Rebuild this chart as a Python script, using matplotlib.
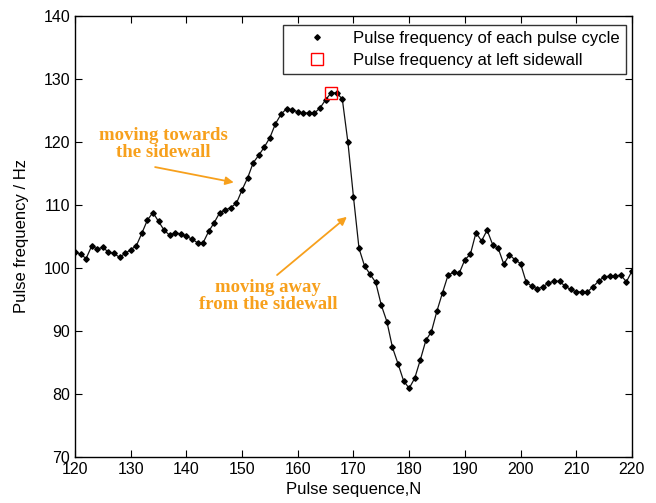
import matplotlib.pyplot as plt
import numpy as np

plt.rcParams['font.family'] = ['Liberation Sans', 'DejaVu Sans']

pulse_n = np.arange(120, 221)
freq_hz = [102.6, 102.2, 101.5, 103.5, 103.0, 103.3, 102.5, 102.3, 101.7, 102.3,
           102.9, 103.5, 105.5, 107.6, 108.8, 107.4, 106.0, 105.2, 105.6, 105.4,
           105.0, 104.6, 104.0, 104.0, 105.8, 107.2, 108.8, 109.2, 109.6, 110.3,
           112.4, 114.3, 116.7, 117.9, 119.2, 120.7, 122.9, 124.4, 125.3, 125.1,
           124.8, 124.6, 124.6, 124.6, 125.4, 126.7, 127.8, 127.8, 126.8, 120.0,
           111.3, 103.1, 100.3, 99.0, 97.7, 94.1, 91.5, 87.4, 84.8, 82.1,
           80.9, 82.5, 85.4, 88.5, 89.9, 93.2, 96.1, 98.9, 99.3, 99.2,
           101.3, 102.2, 105.6, 104.3, 106.0, 103.7, 103.1, 100.6, 102.1, 101.3,
           100.7, 97.8, 97.1, 96.7, 97.0, 97.6, 97.9, 97.9, 97.1, 96.6,
           96.2, 96.2, 96.2, 97.0, 97.9, 98.6, 98.7, 98.7, 98.9, 97.8,
           99.5]

# the cycle where the jet hits the left sidewall
wall_n = [166]
wall_hz = [127.8]

orange = '#f7a01c'

fig = plt.figure(figsize=(6.56, 5.03), dpi=100)
ax = fig.add_axes([0.1143, 0.0915, 0.849, 0.8767])

ax.plot(pulse_n, freq_hz, color='#111111', linewidth=0.9)
ax.plot(pulse_n, freq_hz, linestyle='None', marker='D', markersize=2.8,
        color='black', label='Pulse frequency of each pulse cycle')
ax.plot(wall_n, wall_hz, linestyle='None', marker='s', markersize=8,
        markerfacecolor='none', markeredgecolor='red', markeredgewidth=1.0,
        label='Pulse frequency at left sidewall')

ax.set_xlim(120, 220)
ax.set_ylim(70, 140)
ax.set_xticks(np.arange(120, 221, 10))
ax.set_yticks(np.arange(70, 141, 10))
ax.tick_params(direction='in', top=True, right=True, labelsize=11.5, length=5)
for sp in ax.spines.values():
    sp.set_linewidth(1.0)

ax.set_xlabel('Pulse sequence,N', fontsize=12, labelpad=4)
ax.set_ylabel('Pulse frequency / Hz', fontsize=12, labelpad=10)

# annotations
ax.annotate('', xy=(149.0, 113.5), xytext=(133.9, 116.1),
            arrowprops=dict(arrowstyle='-|>', color=orange, lw=1.3,
                            mutation_scale=12))
ax.text(135.8, 119.7, 'moving towards\nthe sidewall', color=orange,
        family=['Liberation Serif'], fontweight='bold', fontsize=13.5,
        ha='center', va='center', linespacing=1.0)

ax.annotate('', xy=(169.2, 108.4), xytext=(155.9, 98.6),
            arrowprops=dict(arrowstyle='-|>', color=orange, lw=1.3,
                            mutation_scale=12))
ax.text(154.7, 95.6, 'moving away\nfrom the sidewall', color=orange,
        family=['Liberation Serif'], fontweight='bold', fontsize=13.5,
        ha='center', va='center', linespacing=1.0)

leg = ax.legend(loc='upper right', bbox_to_anchor=(0.989, 0.98),
                borderaxespad=0, fancybox=False, edgecolor='black',
                fontsize=12, handlelength=3.4, handletextpad=0.5,
                labelspacing=0.45, borderpad=0.35)
leg.get_frame().set_linewidth(1.0)

fig.savefig('out.png', dpi=100)
